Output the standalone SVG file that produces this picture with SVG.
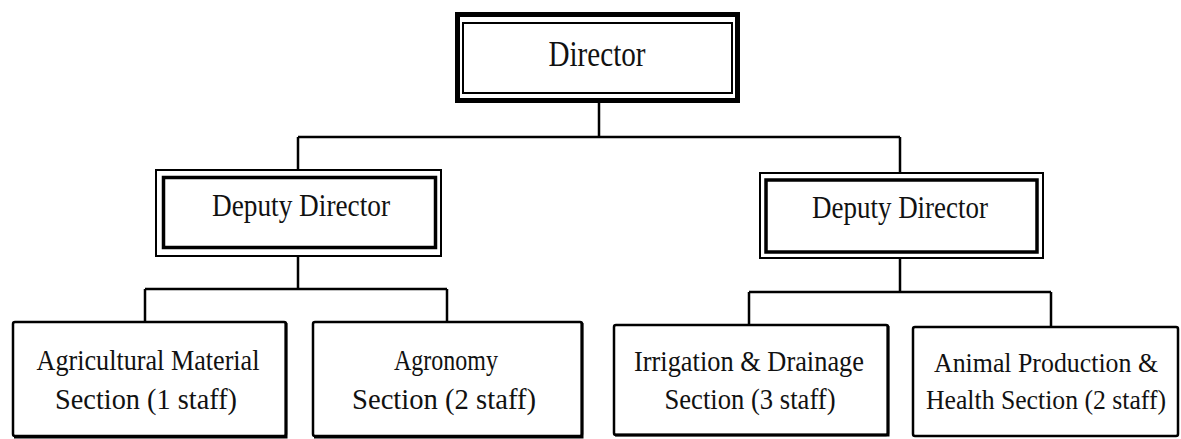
<svg xmlns="http://www.w3.org/2000/svg" width="1181" height="439" viewBox="0 0 1181 439">
<style>
text{font-family:"Liberation Serif","Times New Roman",serif;fill:#111;text-anchor:middle}
.t1{font-size:35px}
.t2{font-size:31px}
.t3{font-size:29px}
.t4{font-size:27px}
.thick{fill:none;stroke:#000;stroke-width:5}
.thin{fill:none;stroke:#000;stroke-width:2}
.mid{fill:none;stroke:#000;stroke-width:3.5}
.box{fill:#fff;stroke:#000;stroke-width:2.5}
.sh{fill:none;stroke:#000;stroke-width:3}
.conn{fill:none;stroke:#000;stroke-width:2.5}
</style>
<rect width="1181" height="439" fill="#fff"/>
<g id="connectors">
<path class="conn" d="M599 101V137M298 137H900M298 137V169M900 137V173"/>
<path class="conn" d="M298 257V289M145 289H447M145 289V322M447 289V322"/>
<path class="conn" d="M900 258V292M749 292H1051M749 292V325M1051 292V327"/>
</g>
<g id="director">
<rect x="457.5" y="14.5" width="280" height="86" fill="#fff" class="thick"/>
<rect x="463" y="23" width="269" height="70" class="thin"/>
<text class="t1" x="597" y="66" textLength="97" lengthAdjust="spacingAndGlyphs">Director</text>
</g>
<g id="deputy-left">
<rect x="156" y="170" width="285" height="86" fill="#fff" class="thin"/>
<rect x="163.5" y="177.5" width="272" height="70" class="mid"/>
<text class="t2" x="301" y="216" textLength="178" lengthAdjust="spacingAndGlyphs">Deputy Director</text>
</g>
<g id="deputy-right">
<rect x="760" y="173" width="283" height="85" fill="#fff" class="thin"/>
<rect x="766" y="180" width="271" height="72" class="mid"/>
<text class="t2" x="900" y="218" textLength="176" lengthAdjust="spacingAndGlyphs">Deputy Director</text>
</g>
<g id="agri-material">
<rect x="13" y="322" width="273" height="114" rx="2" class="box"/>
<path class="sh" d="M286 323V437H14"/>
<text class="t3" x="148" y="370" textLength="223" lengthAdjust="spacingAndGlyphs">Agricultural Material</text>
<text class="t3" x="146" y="409" textLength="182" lengthAdjust="spacingAndGlyphs">Section (1 staff)</text>
</g>
<g id="agronomy">
<rect x="313" y="322" width="269" height="114" rx="2" class="box"/>
<path class="sh" d="M582 323V437H314"/>
<text class="t3" x="446" y="370" textLength="104" lengthAdjust="spacingAndGlyphs">Agronomy</text>
<text class="t3" x="444" y="409" textLength="184" lengthAdjust="spacingAndGlyphs">Section (2 staff)</text>
</g>
<g id="irrigation">
<rect x="614" y="325" width="274" height="110" rx="2" class="box"/>
<path class="sh" d="M888 326V435H615"/>
<text class="t3" x="749" y="371" textLength="230" lengthAdjust="spacingAndGlyphs">Irrigation &amp; Drainage</text>
<text class="t3" x="750" y="409" textLength="171" lengthAdjust="spacingAndGlyphs">Section (3 staff)</text>
</g>
<g id="animal">
<rect x="913" y="327" width="265" height="109" rx="2" class="box"/>
<text class="t4" x="1046" y="372" textLength="224" lengthAdjust="spacingAndGlyphs">Animal Production &amp;</text>
<text class="t4" x="1046" y="409" textLength="240" lengthAdjust="spacingAndGlyphs">Health Section (2 staff)</text>
</g>
</svg>
